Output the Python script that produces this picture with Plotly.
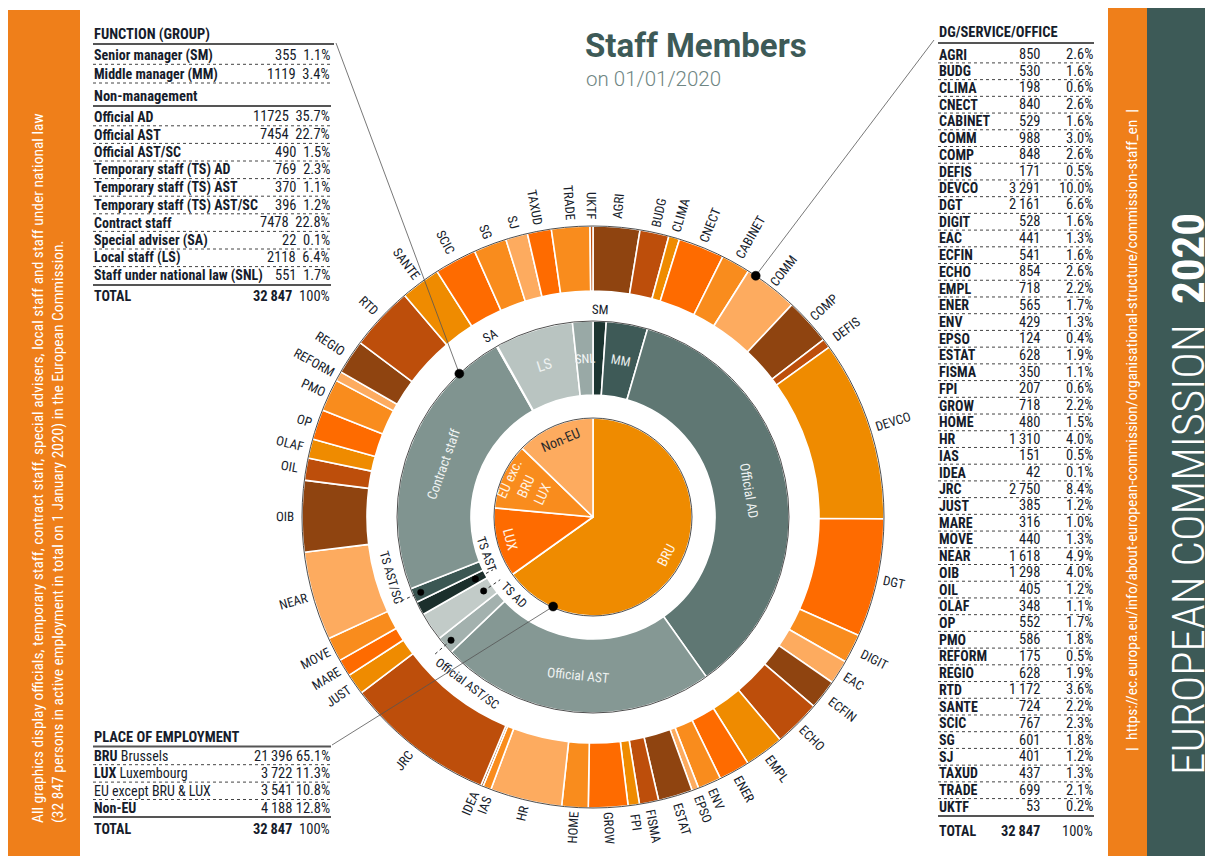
import math
import plotly.graph_objects as go

W, H = 1213, 861
OFF = 8  # page body margin

# ---------------- data ----------------
TOTAL = 32847

place_codes = ["BRU", "LUX", "EU except BRU & LUX", "Non-EU"]
place_names = ["Brussels", "Luxembourg", "", ""]
place_short = ["BRU", "LUX", "EU exc.<br>BRU<br>LUX", "Non-EU"]
place_values = [21396, 3722, 3541, 4188]

func_labels = ["Senior manager (SM)", "Middle manager (MM)", "Official AD", "Official AST",
               "Official AST/SC", "Temporary staff (TS) AD", "Temporary staff (TS) AST",
               "Temporary staff (TS) AST/SC", "Contract staff", "Special adviser (SA)",
               "Local staff (LS)", "Staff under national law (SNL)"]
func_short = ["SM", "MM", "Official AD", "Official AST", "Official AST/SC", "TS AD", "TS AST",
              "TS AST/SC", "Contract staff", "SA", "LS", "SNL"]
func_values = [355, 1119, 11725, 7454, 490, 769, 370, 396, 7478, 22, 2118, 551]

dg_labels = ["AGRI", "BUDG", "CLIMA", "CNECT", "CABINET", "COMM", "COMP", "DEFIS", "DEVCO", "DGT",
             "DIGIT", "EAC", "ECFIN", "ECHO", "EMPL", "ENER", "ENV", "EPSO", "ESTAT", "FISMA",
             "FPI", "GROW", "HOME", "HR", "IAS", "IDEA", "JRC", "JUST", "MARE", "MOVE", "NEAR",
             "OIB", "OIL", "OLAF", "OP", "PMO", "REFORM", "REGIO", "RTD", "SANTE", "SCIC", "SG",
             "SJ", "TAXUD", "TRADE", "UKTF"]
dg_values = [850, 530, 198, 840, 529, 988, 848, 171, 3291, 2161,
             528, 441, 541, 854, 718, 565, 429, 124, 628, 350,
             207, 718, 480, 1310, 151, 42, 2750, 385, 316, 440, 1618,
             1298, 405, 348, 552, 586, 175, 628, 1172, 724, 767, 601,
             401, 437, 699, 53]

# ---------------- styles ----------------
DB, RU, AM, BO, OR, LO = "#8f4410", "#bd4e0b", "#ef8b00", "#fe6b00", "#f98c1d", "#fdab5f"
dg_colors = [DB, RU, AM, BO, OR, LO, DB, RU, AM, BO,
             OR, LO, DB, RU, AM, BO, OR, LO, DB, RU,
             AM, BO, OR, LO, OR, DB, RU, AM, BO, OR, LO,
             DB, RU, AM, BO, OR, LO, DB, RU, AM, BO, OR,
             LO, BO, OR, RU]
place_colors = [AM, BO, OR, LO]
func_colors = ["#1c3531", "#3e5a57", "#5f7773", "#859894", "#a3b1ae", "#c2cbc8",
               "#1b2f2c", "#3b5753", "#809490", "#dfe5e3", "#b9c4c1", "#99a9a6"]

FONT_C = "Liberation Sans Narrow, Roboto Condensed, DejaVu Sans Condensed, Arial Narrow, sans-serif"
FONT_T = "Roboto, Open Sans, sans-serif"
TXT = "#161c2b"
TEAL = "#3d5a57"
ORANGE = "#ef7f1a"

CX, CY = 593, 517
R_OUT, R_OUT_IN = 291, 226
R_MID, R_MID_IN = 196, 122
R_IN = 99


def X(px):
    return (px - OFF) / W


def Y(py):
    return 1 - (py - OFF) / H


def dom(r):
    return dict(x=[X(CX - r), X(CX + r)], y=[Y(CY + r), Y(CY - r)])


def polar(theta, r):
    t = math.radians(theta)
    return CX + r * math.sin(t), CY - r * math.cos(t)


def mids(values):
    tot = sum(values)
    out, c = [], 0
    for v in values:
        out.append((c + v / 2) / tot * 360)
        c += v
    return out


def fmt_thin(v):
    return f"{v:,}".replace(",", "\u2009")


def pct(v):
    return f"{v / TOTAL * 100:.1f}%"


fig = go.Figure()

common = dict(sort=False, direction="clockwise", rotation=0, textinfo="none",
              showlegend=False, hoverinfo="label+value+percent")
fig.add_trace(go.Pie(labels=dg_labels, values=dg_values, hole=R_OUT_IN / R_OUT, domain=dom(R_OUT),
                     marker=dict(colors=dg_colors, line=dict(color="white", width=1.6)), **common))
fig.add_trace(go.Pie(labels=func_short, values=func_values, hole=R_MID_IN / R_MID, domain=dom(R_MID),
                     marker=dict(colors=func_colors, line=dict(color="white", width=1.6)), **common))
fig.add_trace(go.Pie(labels=place_codes, values=place_values, domain=dom(R_IN),
                     marker=dict(colors=place_colors, line=dict(color="white", width=1.6)), **common))

ann = []
shapes = []


def text(px, py, s, size=12, color=TXT, xanchor="left", yanchor="middle", family=FONT_C,
         angle=0, weight=None, align="left"):
    f = dict(size=size, color=color, family=family)
    if weight:
        f["weight"] = weight
    ann.append(dict(x=X(px), y=Y(py), xref="paper", yref="paper", text=s, showarrow=False,
                    xanchor=xanchor, yanchor=yanchor, textangle=angle, font=f, align=align,
                    borderpad=0))


def line(x0, y0, x1, y1, color="#444", width=1, dash="solid", layer="above"):
    shapes.append(dict(type="line", xref="paper", yref="paper", x0=X(x0), y0=Y(y0), x1=X(x1),
                       y1=Y(y1), line=dict(color=color, width=width, dash=dash), layer=layer))


def circle(cx, cy, r, color="#444", width=0.8, fill=None):
    shapes.append(dict(type="circle", xref="paper", yref="paper", x0=X(cx - r), x1=X(cx + r),
                       y0=Y(cy + r), y1=Y(cy - r), line=dict(color=color, width=width),
                       fillcolor=fill if fill else "rgba(0,0,0,0)", layer="above"))


def rect(x0, y0, x1, y1, fill):
    shapes.append(dict(type="rect", xref="paper", yref="paper", x0=X(x0), x1=X(x1), y0=Y(y1),
                       y1=Y(y0), fillcolor=fill, line=dict(width=0), layer="below"))


# side panels
rect(8, 10, 80, 856, ORANGE)
rect(1108, 5, 1147, 856, ORANGE)
rect(1147, 5, 1225, 856, TEAL)

# ring outlines
circle(CX, CY, R_OUT, "#3a3a3a", 0.9)
circle(CX, CY, R_MID, "#3a3a3a", 0.9)
circle(CX, CY, R_IN, "#3a3a3a", 0.9)

# ---------------- outer ring labels ----------------
ang = mids(dg_values)
SEP = 2.6
for _ in range(300):
    moved = False
    for i in range(len(ang) - 1):
        d = ang[i + 1] - ang[i]
        if d < SEP:
            push = (SEP - d) / 2
            ang[i] -= push
            ang[i + 1] += push
            moved = True
    if not moved:
        break

CHAR_W = 6.8
for lab, th in zip(dg_labels, ang):
    w = len(lab) * CHAR_W
    r = R_OUT + 7 + w / 2
    x, y = polar(th, r)
    a = th - 90 if th <= 180 else th - 270
    text(x, y, lab, size=13, xanchor="center", angle=a)

# ---------------- middle ring labels ----------------
fm = mids(func_values)


def tang(th):
    if th <= 90 or th > 270:
        return th if th <= 90 else th - 360
    return th - 180


inside = {"MM": ("#e9efee", 13), "Official AD": ("#eef2f1", 13.5), "Official AST": ("#eef2f1", 13.5),
          "Contract staff": ("#eef2f1", 13.5), "LS": ("#eef2f1", 15), "SNL": ("#f4f6f6", 12.5)}
rmid = (R_MID + R_MID_IN) / 2
for lab, th in zip(func_short, fm):
    if lab in inside:
        c, s = inside[lab]
        x, y = polar(th, rmid)
        text(x, y, lab, size=s, color=c, xanchor="center", angle=tang(th))

for lab in ["SM", "SA"]:
    th = fm[func_short.index(lab)]
    x, y = polar(th, 208)
    text(x, y, lab, size=13, xanchor="center", angle=tang(th))

# small labels with leader dots: (label, dot radius, line end radius, label offset deg, label radius)
small = [("Official AST/SC", 188, 212, -12, 208),
         ("TS AD", 132, 112, -10.5, 111),
         ("TS AST", 133, 113, 8.5, 112),
         ("TS AST/SC", 188, 215, 7, 210)]
for lab, rd, rl, off, rlab in small:
    th = fm[func_short.index(lab)]
    dx, dy = polar(th, rd)
    ex, ey = polar(th, rl)
    line(dx, dy, ex, ey, "#333", 1, "dot")
    circle(dx, dy, 3.2, "#000", 0.5, "#000")
    lx, ly = polar(th + off, rlab)
    text(lx, ly, lab, size=12.5, xanchor="center", angle=tang(th + off))

# ---------------- inner pie labels ----------------
pm = mids(place_values)
inner_col = ["#fff4e6", "#fff4e6", "#fff4e6", "#2a2a2a"]
inner_r = [82, 86, 74, 84]
for lab, th, c, r in zip(place_short, pm, inner_col, inner_r):
    x, y = polar(th, r)
    text(x, y, lab, size=14, color=c, xanchor="center", angle=tang(th), align="center")

# ---------------- leader lines from tables ----------------
px_, py_ = polar(317, R_MID)
line(336, 43, px_, py_, "#555", 0.8)
circle(px_, py_, 4.5, "#000", 0.5, "#000")
px_, py_ = polar(34, R_OUT)
line(934, 40, px_, py_, "#555", 0.8)
circle(px_, py_, 4.5, "#000", 0.5, "#000")
px_, py_ = polar(204, R_IN - 1)
line(332, 745, px_, py_, "#555", 0.8)
circle(px_, py_, 4.5, "#000", 0.5, "#000")

# ---------------- FUNCTION table ----------------
TL, TR = 93, 331
TS = 14
text(TL, 35, "<b>FUNCTION (GROUP)</b>", size=14.5)
line(TL, 44, TR + 3, 44, "#555", 1.8)
rows_y = [55.5, 74] + [117 + 17.6 * i for i in range(10)]
for i, (lab, v) in enumerate(zip(func_labels, func_values)):
    y = rows_y[i]
    text(TL, y, f"<b>{lab}</b>", size=TS)
    text(TR, y, f"{v}  {pct(v)}", size=TS + 0.5, xanchor="right")
    if i not in (1, 11):
        line(TL, y + 8.8, TR, y + 8.8, "#444", 1, "dot")
line(TL, 83, TR, 83, "#444", 1, "dot")
text(TL, 96.5, "<b>Non-management</b>", size=14.5)
line(TL, 106, TR, 106, "#555", 1.8)
line(TL, 285, TR, 285, "#555", 1.8)
text(TL, 296, "<b>TOTAL</b>", size=TS)
text(TR, 296, f"<b>{fmt_thin(sum(func_values))}</b>  100%", size=TS + 0.5, xanchor="right")

# ---------------- PLACE table ----------------
text(TL, 737, "<b>PLACE OF EMPLOYMENT</b>", size=14.5)
line(TL, 746.5, TR, 746.5, "#555", 1.8)
for i, (code, name, v) in enumerate(zip(place_codes, place_names, place_values)):
    y = 756 + 17.4 * i
    s = f"<b>{code}</b> {name}" if name else (f"<b>{code}</b>" if code == "Non-EU" else code)
    text(TL, y, s, size=TS)
    text(TR, y, f"{fmt_thin(v)} {pct(v)}", size=TS + 0.5, xanchor="right")
    if i < 3:
        line(TL, y + 8.7, TR, y + 8.7, "#444", 1, "dot")
line(TL, 817, TR, 817, "#555", 1.8)
text(TL, 829, "<b>TOTAL</b>", size=TS)
text(TR, 829, f"<b>{fmt_thin(sum(place_values))}</b>  100%", size=TS + 0.5, xanchor="right")

# ---------------- DG table ----------------
DL, DC, DR = 938, 1041, 1094
text(DL, 33, "<b>DG/SERVICE/OFFICE</b>", size=14.5)
line(DL, 43, DR, 43, "#555", 2)
for i, (lab, v) in enumerate(zip(dg_labels, dg_values)):
    y = 54.5 + 16.72 * i
    text(DL, y, f"<b>{lab}</b>", size=TS)
    text(DC, y, fmt_thin(v), size=TS + 0.5, xanchor="right")
    text(DR, y, pct(v), size=TS + 0.5, xanchor="right")
    if i < len(dg_labels) - 1:
        line(DL, y + 8.4, DR, y + 8.4, "#444", 1, "dot")
line(DL, 816, DR, 816, "#555", 2)
text(DL, 831, "<b>TOTAL</b>", size=TS)
text(DC, 831, f"<b>{fmt_thin(sum(dg_values))}</b>", size=TS + 0.5, xanchor="right")
text(DR, 831, "100%", size=TS + 0.5, xanchor="right")

# ---------------- title ----------------
text(584, 46, "<b>Staff Members</b>", size=33, color=TEAL, family=FONT_T)
text(585, 79, "on 01/01/2020", size=20.5, color="#6f8683", family=FONT_T, weight=300)

# ---------------- side texts ----------------
text(48, 824, "All graphics display officials, temporary staff, contract staff, special advisers, local staff and staff under national law"
     "<br>(32 847 persons in active employment in total on 1 January 2020) in the European Commission.",
     size=15.5, color="white", xanchor="center", yanchor="bottom", angle=-90)
text(1132, 430, "|  https://ec.europa.eu/info/about-european-commission/organisational-structure/commission-staff_en  |",
     size=15.5, color="white", xanchor="center", angle=-90)
text(1188, 776, "EUROPEAN COMMISSION  <b>2020</b>", size=45, color="white", family=FONT_C,
     xanchor="center", yanchor="bottom", angle=-90, weight=300)

fig.update_layout(width=W, height=H, margin=dict(l=0, r=0, t=0, b=0),
                  paper_bgcolor="white", plot_bgcolor="white",
                  annotations=ann, shapes=shapes)
fig.write_html("out.html")
